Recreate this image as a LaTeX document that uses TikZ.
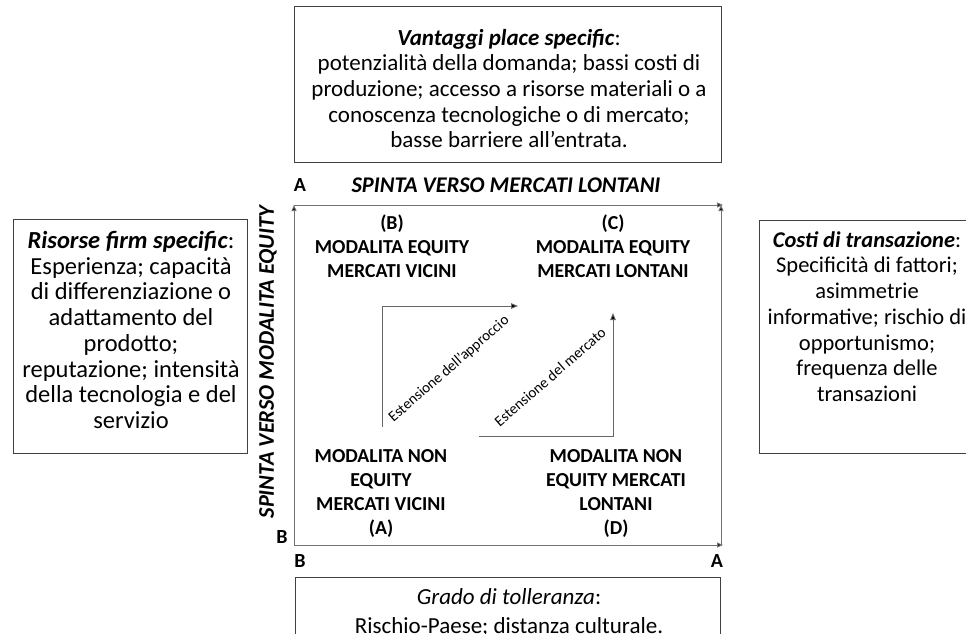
\documentclass[tikz,border=0pt]{standalone}
\usepackage{fontspec}
\setmainfont{Carlito}
\usetikzlibrary{arrows.meta}
\begin{document}
\begin{tikzpicture}[x=1pt,y=-1pt,
  box/.style={draw=black!75, line width=1pt, inner sep=0pt},
  body/.style={align=center, inner sep=0pt},
  quad/.style={font=\bfseries\fontsize{19.8}{24}\selectfont, align=center, inner sep=0pt},
  axis/.style={draw=black!55, line width=1pt, -{Triangle[length=6pt,width=5pt,fill=black]}},
  ext/.style={draw=black!60, line width=0.9pt, -{Triangle[length=7pt,width=5.5pt,fill=black]}},
  extlbl/.style={font=\fontsize{15}{17}\selectfont, rotate=41, inner sep=0pt},
  corner/.style={font=\bfseries\fontsize{20}{22}\selectfont, inner sep=0pt},
  axlbl/.style={font=\bfseries\itshape\fontsize{22.4}{24}\selectfont, inner sep=0pt}]
\useasboundingbox (0,0) rectangle (966,633);

% factor boxes
\node[box, minimum width=427pt, minimum height=156pt] (top) at (507.5,84) {};
\node[box, minimum width=234pt, minimum height=234pt] (left) at (130,336) {};
\node[box, minimum width=216pt, minimum height=233pt] (right) at (867,336.5) {};
\node[box, minimum width=425pt, minimum height=70pt] (bottom) at (507.5,612) {};

\node[body, font=\fontsize{23}{25.7}\selectfont] (top-t) at (509,88.5)
  {\textbf{\textit{Vantaggi place specific}}:\\
  potenzialità della domanda; bassi costi di\\
  produzione; accesso a risorse materiali o a\\
  conoscenza tecnologiche o di mercato;\\
  basse barriere all’entrata.};
\node[body, font=\fontsize{24.5}{25.7}\selectfont] (left-t) at (131,330)
  {\textbf{\textit{Risorse firm specific}}:\\
  Esperienza; capacità\\
  di differenziazione o\\
  adattamento del\\
  prodotto;\\
  reputazione; intensità\\
  della tecnologia e del\\
  servizio};
\node[body, font=\fontsize{22.5}{25.7}\selectfont] (right-t) at (867,316.5)
  {\textbf{\textit{Costi di transazione}}:\\
  Specificità di fattori;\\
  asimmetrie\\
  informative; rischio di\\
  opportunismo;\\
  frequenza delle\\
  transazioni};
\node[body, font=\fontsize{23}{29}\selectfont] (bottom-t) at (509,612.5)
  {\textit{Grado di tolleranza}:\\
  Rischio-Paese; distanza culturale.};

% axes frame
\coordinate (bl) at (294,545);
\coordinate (tl) at (294,205);
\coordinate (tr) at (721,205);
\coordinate (br) at (721,545);
\coordinate (trx) at (723,205);
\coordinate (brx) at (723,545);
\draw[axis] (bl) -- (tl);
\draw[axis] (tl) -- (trx);
\draw[axis] (br) -- (tr);
\draw[axis] (bl) -- (brx);

\node[corner] (a-top) at (300,185) {A};
\node[axlbl] (x-lbl) at (506,185) {SPINTA VERSO MERCATI LONTANI};
\node[axlbl, rotate=90] (y-lbl) at (268,362) {SPINTA VERSO MODALITA EQUITY};
\node[corner] (b-left) at (282,537) {B};
\node[corner] (b-bottom) at (300,561) {B};
\node[corner] (a-right) at (717,561) {A};

% quadrants
\node[quad] (qB) at (392,246) {(B)\\MODALITA EQUITY\\MERCATI VICINI};
\node[quad] (qC) at (613,246) {(C)\\MODALITA EQUITY\\MERCATI LONTANI};
\node[quad] (qA) at (381,493) {MODALITA NON\\EQUITY\\MERCATI VICINI\\(A)};
\node[quad] (qD) at (616,493) {MODALITA NON\\EQUITY MERCATI\\LONTANI\\(D)};

% extension paths
\coordinate (e1s) at (382,427);
\coordinate (e1c) at (382,306);
\coordinate (e1e) at (518,306);
\coordinate (e2s) at (479,436);
\coordinate (e2c) at (613,436);
\coordinate (e2e) at (613,313);
\draw[ext] (e1s) -- (e1c) -- (e1e);
\draw[ext] (e2s) -- (e2c) -- (e2e);
\node[extlbl] (e1-lbl) at (449,369) {Estensione dell’approccio};
\node[extlbl] (e2-lbl) at (550,377) {Estensione del mercato};
\end{tikzpicture}
\end{document}
